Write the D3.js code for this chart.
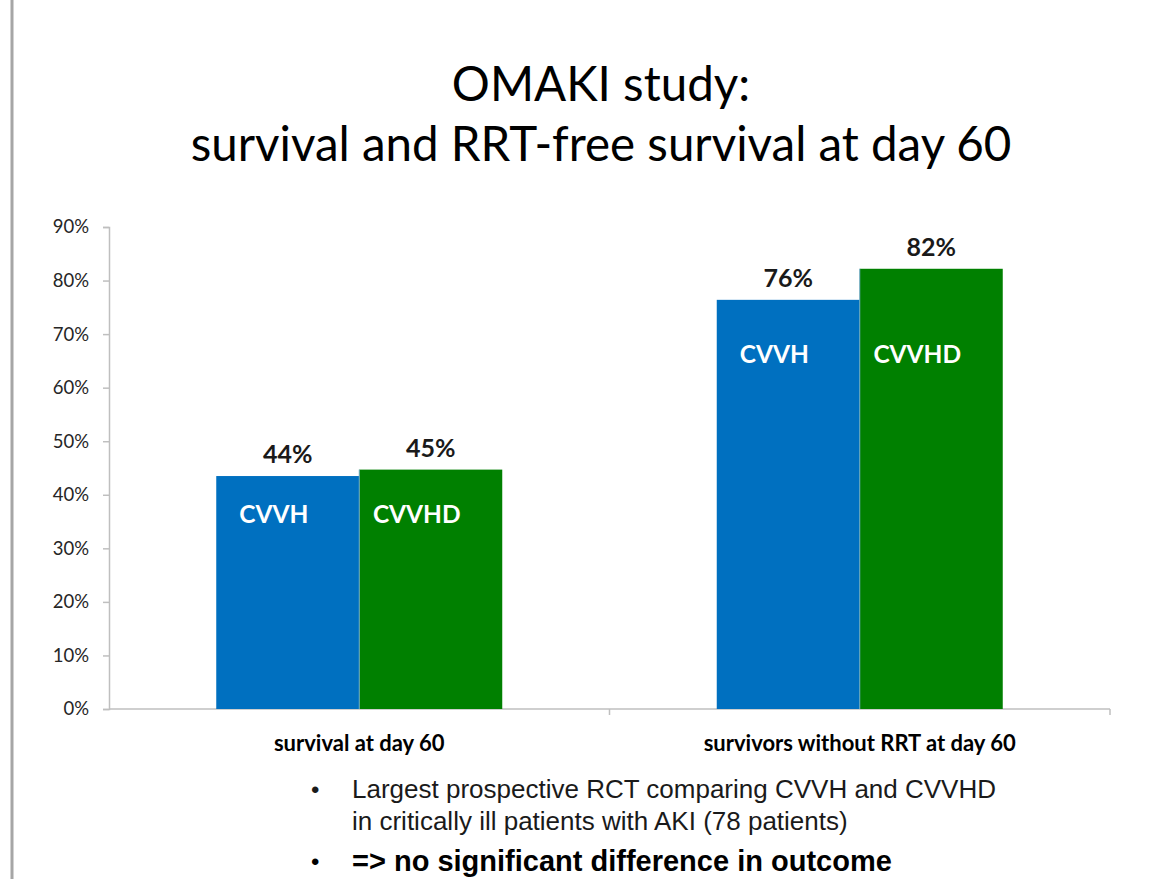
<!DOCTYPE html>
<meta charset="utf-8">
<head>
  <title>OMAKI study</title>
</head>

<style>
body {
  margin: 0;
  background: #fff;
}
svg text { font-family: Lato, "Open Sans", sans-serif; }
</style>

<body>
  <div id="content">
    <svg width="1163" height="879"></svg>
  </div>

  <script src="https://cdnjs.cloudflare.com/ajax/libs/d3/7.8.5/d3.min.js"></script>

  <script>
var categories = ['survival at day 60', 'survivors without RRT at day 60'];
var series = ['CVVH', 'CVVHD'];
var cvvh = [43.5, 76.4];
var cvvhd = [44.7, 82.2];
var valueLabels = [['44%', '45%'], ['76%', '82%']];
// level (in %) where the white series tags sit inside each group
var tagLevel = [34.8, 64.6];
var yTicks = [0, 10, 20, 30, 40, 50, 60, 70, 80, 90];
var title = ['OMAKI study:', 'survival and RRT-free survival at day 60'];
var notes = [
  'Largest prospective RCT comparing CVVH and CVVHD',
  'in critically ill patients with AKI (78 patients)'
];
var conclusion = '=> no significant difference in outcome';

var colors = {CVVH: '#0070c0', CVVHD: '#008000'};

var svg = d3.select('#content svg');

// slide border on the left
svg.append('line')
  .attr('x1', 12).attr('x2', 12)
  .attr('y1', 0).attr('y2', 879)
  .attr('stroke', '#a6a6a6')
  .attr('stroke-width', 3);

// title
svg.selectAll('.title')
  .data(title)
  .enter().append('text')
  .attr('class', 'title')
  .attr('x', 601)
  .attr('y', function(d, i) { return 101 + i * 60; })
  .attr('text-anchor', 'middle')
  .attr('font-size', 47.5)
  .attr('fill', '#000')
  .text(function(d) { return d; });

var margin = {left: 109, right: 53, top: 227, bottom: 170};
var width = 1163 - margin.left - margin.right;
var height = 879 - margin.top - margin.bottom;

var g = svg.append('g')
  .attr('transform', 'translate(' + margin.left + ',' + margin.top + ')');

var x = d3.scaleBand()
  .domain(categories)
  .range([0, width])
  .padding(0);

var x1 = d3.scaleBand()
  .domain(series)
  .range([0, x.bandwidth()])
  .paddingInner(0)
  .paddingOuter(0.75);

var y = d3.scaleLinear()
  .domain([0, 90])
  .range([height, 0]);

// y axis
var yAxis = g.append('g')
  .call(d3.axisLeft(y)
    .tickValues(yTicks)
    .tickSize(6)
    .tickPadding(14)
    .tickFormat(function(d) { return d + '%'; }));
yAxis.selectAll('text')
  .attr('font-size', 18.5)
  .attr('fill', '#262626')
  .style('font-family', 'Lato, sans-serif');
yAxis.selectAll('line').attr('stroke', '#bfbfbf').attr('stroke-width', 1.5);
yAxis.select('.domain').attr('stroke', '#bfbfbf').attr('stroke-width', 1.5);

// x axis
var xAxis = g.append('g')
  .attr('transform', 'translate(0,' + height + ')');
xAxis.append('line')
  .attr('x1', 0).attr('x2', width)
  .attr('stroke', '#bfbfbf').attr('stroke-width', 1.5);
xAxis.selectAll('.sep')
  .data(categories)
  .enter().append('line')
  .attr('class', 'sep')
  .attr('x1', function(d) { return x(d) + x.bandwidth(); })
  .attr('x2', function(d) { return x(d) + x.bandwidth(); })
  .attr('y1', 0).attr('y2', 6)
  .attr('stroke', '#bfbfbf').attr('stroke-width', 1.5);
xAxis.selectAll('.cat')
  .data(categories)
  .enter().append('text')
  .attr('class', 'cat')
  .attr('x', function(d) { return x(d) + x.bandwidth() / 2; })
  .attr('y', 42)
  .attr('text-anchor', 'middle')
  .attr('font-size', 22)
  .attr('font-weight', 'bold')
  .attr('fill', '#000')
  .text(function(d) { return d; });

// bars
var rows = categories.map(function(c, i) {
  return {category: c, index: i, values: [
    {key: 'CVVH', value: cvvh[i], label: valueLabels[i][0]},
    {key: 'CVVHD', value: cvvhd[i], label: valueLabels[i][1]}
  ]};
});

var groups = g.selectAll('.group')
  .data(rows)
  .enter().append('g')
  .attr('class', 'group')
  .attr('transform', function(d) { return 'translate(' + x(d.category) + ',0)'; });

groups.selectAll('rect')
  .data(function(d) { return d.values; })
  .enter().append('rect')
  .attr('x', function(d) { return x1(d.key); })
  .attr('width', x1.bandwidth())
  .attr('y', function(d) { return y(d.value); })
  .attr('height', function(d) { return height - y(d.value); })
  .attr('fill', function(d) { return colors[d.key]; });

// thin light edge between the two bars
groups.append('line')
  .attr('x1', x1('CVVHD')).attr('x2', x1('CVVHD'))
  .attr('y1', function(d) { return y(d.values[1].value); })
  .attr('y2', height)
  .attr('stroke', '#6fa8c8')
  .attr('stroke-width', 1);

// value labels
groups.selectAll('.val')
  .data(function(d) { return d.values; })
  .enter().append('text')
  .attr('class', 'val')
  .attr('x', function(d) { return x1(d.key) + x1.bandwidth() / 2; })
  .attr('y', function(d) { return y(d.value) - 13; })
  .attr('text-anchor', 'middle')
  .attr('font-size', 25)
  .attr('font-weight', 'bold')
  .attr('fill', '#1a1a1a')
  .text(function(d) { return d.label; });

// series tags inside bars
groups.each(function(row) {
  d3.select(this).selectAll('.tag')
    .data(row.values)
    .enter().append('text')
    .attr('class', 'tag')
    .attr('x', function(d) { return x1(d.key) + x1.bandwidth() / 2 - 14; })
    .attr('y', y(tagLevel[row.index]))
    .attr('text-anchor', 'middle')
    .attr('font-size', 24.5)
    .attr('font-weight', 'bold')
    .attr('fill', '#fff')
    .text(function(d) { return d.key; });
});

// bullet notes
var notesG = svg.append('g');

notesG.append('text')
  .attr('x', 311).attr('y', 798)
  .attr('font-size', 24)
  .style('font-family', '"Liberation Sans", Arial, sans-serif')
  .attr('fill', '#1a1a1a')
  .text('\u2022');

notesG.selectAll('.note')
  .data(notes)
  .enter().append('text')
  .attr('class', 'note')
  .attr('x', 352)
  .attr('y', function(d, i) { return 798 + i * 32; })
  .attr('font-size', 26)
  .style('font-family', '"Liberation Sans", Arial, sans-serif')
  .attr('fill', '#1a1a1a')
  .text(function(d) { return d; });

notesG.append('text')
  .attr('x', 311).attr('y', 870)
  .attr('font-size', 24)
  .style('font-family', '"Liberation Sans", Arial, sans-serif')
  .attr('fill', '#000')
  .text('\u2022');

notesG.append('text')
  .attr('x', 352).attr('y', 871)
  .attr('font-size', 29)
  .attr('font-weight', 'bold')
  .style('font-family', '"Liberation Sans", Arial, sans-serif')
  .attr('fill', '#000')
  .text(conclusion);
  </script>
</body>
</html>
